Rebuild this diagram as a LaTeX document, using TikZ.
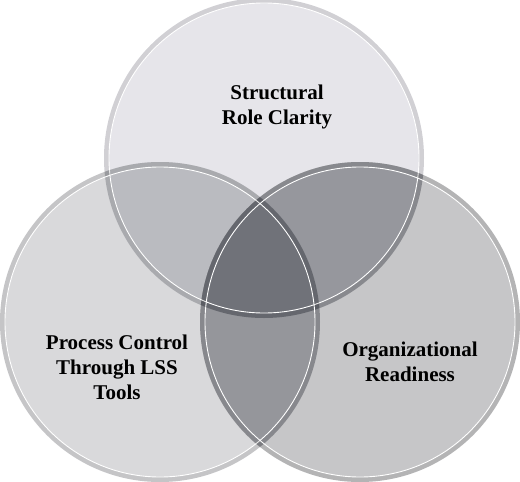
\documentclass[tikz,border=0pt]{standalone}
\usepackage{fontspec}
\setmainfont{Liberation Serif}
\definecolor{topfill}{HTML}{E6E5EA}
\definecolor{leftfill}{HTML}{D9D9DB}
\definecolor{rightfill}{HTML}{C6C6C8}
\definecolor{tlfill}{HTML}{BABBC0}
\definecolor{trfill}{HTML}{96979D}
\definecolor{lrfill}{HTML}{95969B}
\definecolor{midfill}{HTML}{707279}
\begin{document}
\begin{tikzpicture}[x=1pt,y=-1pt,
    lbl/.style={font=\fontsize{21}{25}\selectfont\bfseries, align=center, text=black},
    ring/.style={draw=black, draw opacity=0.09, line width=5pt},
    rim/.style={draw=white, line width=0.9pt}]
  \useasboundingbox (0,0) rectangle (520,482);
  \coordinate (T) at (264,158);
  \coordinate (L) at (160,322);
  \coordinate (R) at (360,322);
  % single circles
  \fill[topfill] (T) circle (160pt);
  \fill[leftfill] (L) circle (160pt);
  \fill[rightfill] (R) circle (160pt);
  % overlaps
  \begin{scope}
    \clip (T) circle (160pt);
    \fill[tlfill] (L) circle (160pt);
    \fill[trfill] (R) circle (160pt);
  \end{scope}
  \begin{scope}
    \clip (L) circle (160pt);
    \fill[lrfill] (R) circle (160pt);
    \clip (T) circle (160pt);
    \fill[midfill] (R) circle (160pt);
  \end{scope}
  \foreach \c in {T,L,R} {
    \draw[ring] (\c) circle (157.5pt);
    \draw[rim] (\c) circle (155pt);
  }
  \node[lbl] (role) at (277,107) {Structural\\Role Clarity};
  \node[lbl] (proc) at (117,367) {Process Control\\Through LSS\\Tools};
  \node[lbl] (ready) at (410,362) {Organizational\\Readiness};
\end{tikzpicture}
\end{document}
